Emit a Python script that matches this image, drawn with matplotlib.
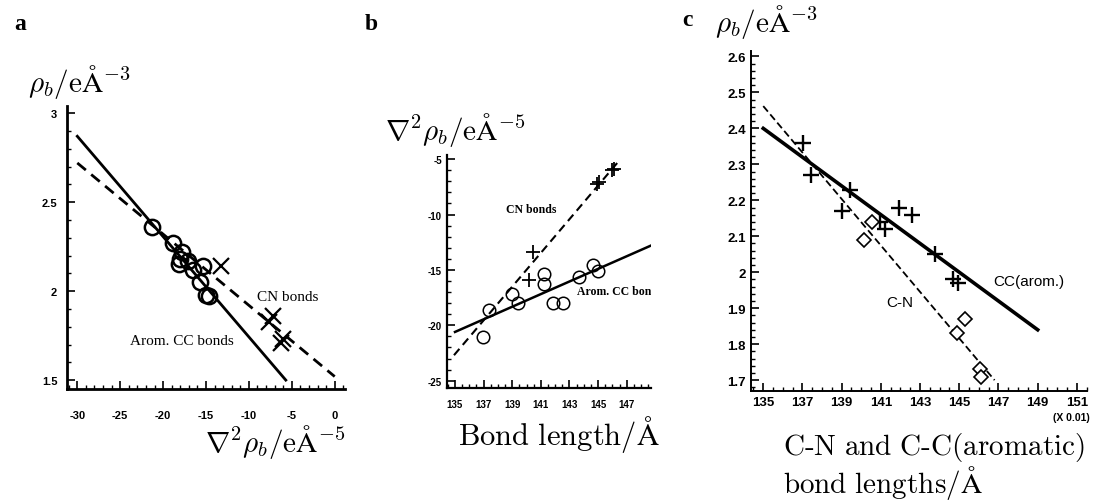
import matplotlib
matplotlib.use("Agg")
from matplotlib import pyplot as plt
from matplotlib.ticker import MultipleLocator

plt.rcParams['mathtext.fontset'] = 'cm'
plt.rcParams['axes.unicode_minus'] = False

# panel a: rho_b vs laplacian
a_cc_lap = [-21.3, -18.9, -17.85, -18.05, -18.1, -17.1, -16.5, -15.4, -15.7, -14.95, -14.65]
a_cc_rho = [2.36, 2.27, 2.22, 2.18, 2.155, 2.17, 2.12, 2.14, 2.05, 1.98, 1.975]
a_cn_lap = [-13.2, -7.2, -7.6, -6.0, -6.25]
a_cn_rho = [2.14, 1.86, 1.825, 1.73, 1.71]
a_cc_fit = ([-30.0, -5.7], [2.87, 1.50])
a_cn_fit = ([-30.0, 0.0], [2.72, 1.52])

# panel b: laplacian vs bond length
b_cc_len = [136.98, 137.4, 138.96, 139.38, 141.25, 141.25, 141.87, 142.53, 143.69, 144.67, 144.98]
b_cc_lap = [-21.1, -18.6, -17.2, -18.0, -15.4, -16.3, -18.0, -18.0, -15.6, -14.55, -15.1]
b_cn_len = [140.45, 140.15, 144.9, 145.05, 146.0, 146.1]
b_cn_lap = [-13.4, -15.9, -7.2, -7.1, -5.95, -5.85]
b_cc_fit = ([135.0, 148.7], [-20.6, -12.8])
b_cn_fit = ([134.93, 146.5], [-22.7, -5.1])

# panel c: rho_b vs bond length
c_cc_len = [137.03, 137.46, 139.42, 139.0, 140.96, 141.2, 141.92, 142.57, 143.76, 144.69, 144.95]
c_cc_rho = [2.36, 2.27, 2.23, 2.17, 2.14, 2.12, 2.18, 2.16, 2.05, 1.98, 1.97]
c_cn_len = [140.53, 140.14, 145.29, 144.87, 146.06, 146.11]
c_cn_rho = [2.14, 2.09, 1.87, 1.83, 1.73, 1.71]
c_cc_fit = ([135.0, 149.0], [2.40, 1.84])
c_cn_fit = ([135.0, 146.8], [2.462, 1.70])

W, H = 1094, 502
fig = plt.figure(figsize=(W / 100, H / 100), dpi=100)


def box(l, r, t, b):
    return [l / W, 1 - b / H, (r - l) / W, (b - t) / H]


def style(ax, fs, lw):
    ax.spines['top'].set_visible(False)
    ax.spines['right'].set_visible(False)
    ax.spines['left'].set_linewidth(lw)
    ax.spines['bottom'].set_linewidth(lw)
    ax.tick_params(direction='in', which='major', length=6, width=1.2, labelsize=fs)
    ax.tick_params(direction='in', which='minor', length=3, width=1)
    for lab in ax.get_xticklabels() + ax.get_yticklabels():
        lab.set_fontweight('bold')
        lab.set_family('Liberation Sans')


# ---- a ----
ax = fig.add_axes(box(67, 345, 107, 390))
ax.plot(*a_cc_fit, color='black', lw=2)
ax.plot(*a_cn_fit, color='black', lw=2, ls=(0, (4, 2.5)))
ax.plot(a_cc_lap, a_cc_rho, 'o', ms=11, mfc='none', mec='black', mew=1.8)
ax.plot(a_cn_lap, a_cn_rho, 'x', ms=11, mec='black', mew=1.6)
ax.set_xlim(-31.2, 1.2)
ax.set_ylim(1.45, 3.04)
ax.set_xticks([-30, -25, -20, -15, -10, -5, 0])
ax.set_yticks([1.5, 2, 2.5, 3])
ax.set_yticklabels(['1.5', '2', '2.5', '3'])
ax.xaxis.set_minor_locator(MultipleLocator(1))
ax.yaxis.set_minor_locator(MultipleLocator(0.1))
style(ax, 8, 2)
ax.tick_params(axis='x', pad=15)
ax.tick_params(axis='y', pad=7)
ax.text(-5.5, 1.97, 'CN bonds', family='Liberation Serif', fontsize=11, ha='center', va='center')
ax.text(-17.8, 1.725, 'Arom. CC bonds', family='Liberation Serif', fontsize=11, ha='center', va='center')
fig.text(28 / W, 1 - 82 / H, r'$\rho_b/\mathrm{e\AA}^{-3}$', fontsize=21, ha='left', va='center')
fig.text(345 / W, 1 - 442 / H, r'$\nabla^2\rho_b/\mathrm{e\AA}^{-5}$', fontsize=21, ha='right', va='center')
fig.text(14 / W, 1 - 25 / H, 'a', family='Liberation Serif', fontweight='bold', fontsize=17, va='center')

# ---- b ----
ax = fig.add_axes(box(446.7, 651, 155.7, 389))
ax.plot(*b_cc_fit, color='black', lw=1.8)
ax.plot(*b_cn_fit, color='black', lw=1.5, ls=(0, (4, 2.5)))
ax.plot(b_cc_len, b_cc_lap, 'o', ms=9, mfc='none', mec='black', mew=1.1)
ax.plot(b_cn_len, b_cn_lap, '+', ms=10, mec='black', mew=1.3)
ax.set_xlim(134.42, 148.7)
ax.set_ylim(-25.66, -4.6)
ax.set_xticks([135, 137, 139, 141, 143, 145, 147])
ax.set_yticks([-25, -20, -15, -10, -5])
ax.xaxis.set_minor_locator(MultipleLocator(0.5))
ax.yaxis.set_minor_locator(MultipleLocator(1))
style(ax, 7, 1.6)
ax.tick_params(axis='x', pad=8)
ax.text(140.3, -9.5, 'CN bonds', family='Liberation Serif', fontweight='bold', fontsize=8.5,
        ha='center', va='center')
ax.text(143.5, -16.9, 'Arom. CC bonds', family='Liberation Serif', fontweight='bold', fontsize=8.5,
        ha='left', va='center', clip_on=True)
fig.text(385 / W, 1 - 130 / H, r'$\nabla^2\rho_b/\mathrm{e\AA}^{-5}$', fontsize=21, ha='left', va='center')
fig.text(660 / W, 1 - 435 / H, r'$\mathrm{Bond\ length/\AA}$', fontsize=22, ha='right', va='center')
fig.text(365 / W, 1 - 25 / H, 'b', family='Liberation Serif', fontweight='bold', fontsize=17, va='center')

# ---- c ----
ax = fig.add_axes(box(750.7, 1086.7, 51.7, 392.3))
ax.plot(*c_cc_fit, color='black', lw=2.6)
ax.plot(*c_cn_fit, color='black', lw=1.3, ls=(0, (4, 2)))
ax.plot(c_cc_len, c_cc_rho, '+', ms=12, mec='black', mew=1.7)
ax.plot(c_cn_len, c_cn_rho, 'D', ms=7.5, mfc='white', mec='black', mew=1.2)
ax.set_xlim(134.36, 151.5)
ax.set_ylim(1.669, 2.616)
ax.set_xticks([135, 137, 139, 141, 143, 145, 147, 149, 151])
ax.set_yticks([1.7, 1.8, 1.9, 2.0, 2.1, 2.2, 2.3, 2.4, 2.5, 2.6])
ax.set_yticklabels(['1.7', '1.8', '1.9', '2', '2.1', '2.2', '2.3', '2.4', '2.5', '2.6'])
ax.xaxis.set_minor_locator(MultipleLocator(0.5))
ax.yaxis.set_minor_locator(MultipleLocator(0.02))
style(ax, 9.5, 1.4)
ax.text(146.75, 1.975, 'CC(arom.)', family='Liberation Sans', fontsize=11, ha='left', va='center')
ax.text(141.96, 1.918, 'C-N', family='Liberation Sans', fontsize=11, ha='center', va='center')
fig.text(1090 / W, 1 - 418 / H, '(X 0.01)', family='Liberation Sans', fontweight='bold', fontsize=7.5,
         ha='right', va='center')
fig.text(715 / W, 1 - 22 / H, r'$\rho_b/\mathrm{e\AA}^{-3}$', fontsize=21, ha='left', va='center')
fig.text(783 / W, 1 - 467 / H,
         r'$\mathrm{C\text{-}N\ and\ C\text{-}C(aromatic)}$' + '\n' + r'$\mathrm{bond\ lengths/\AA}$',
         fontsize=21, ha='left', va='center', multialignment='left', linespacing=1.0)
fig.text(682 / W, 1 - 20 / H, 'c', family='Liberation Serif', fontweight='bold', fontsize=17, va='center')

fig.savefig('out.png', dpi=100)
